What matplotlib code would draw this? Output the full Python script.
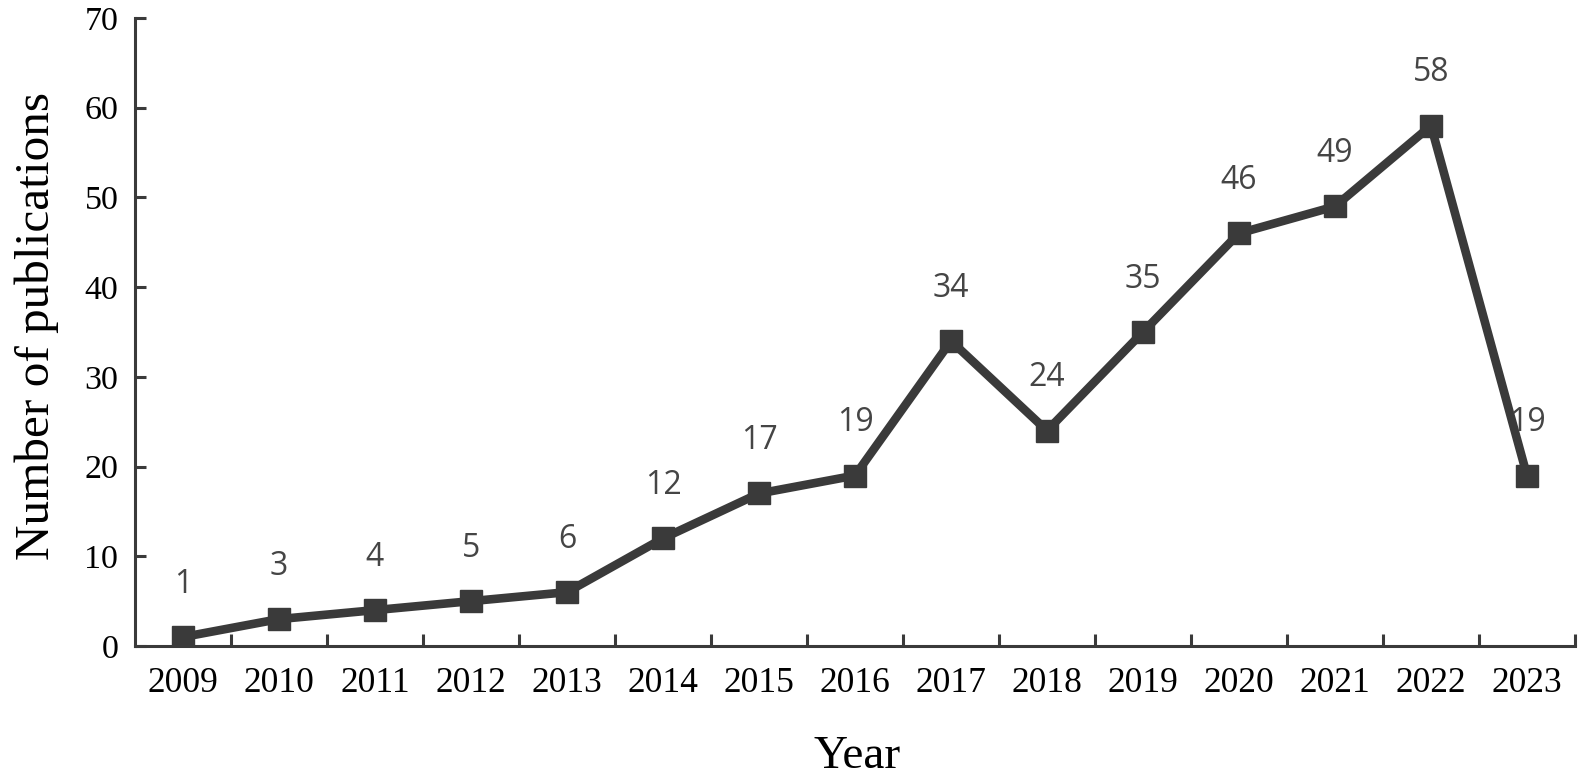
import matplotlib
matplotlib.use("Agg")
import matplotlib.pyplot as plt
import numpy as np

years = ["2009", "2010", "2011", "2012", "2013", "2014", "2015", "2016",
         "2017", "2018", "2019", "2020", "2021", "2022", "2023"]
publications = [1, 3, 4, 5, 6, 12, 17, 19, 34, 24, 35, 46, 49, 58, 19]
yticks = [0, 10, 20, 30, 40, 50, 60, 70]

dark = "#3a3a3a"
fig = plt.figure(figsize=(15.83, 7.80), dpi=100)
ax = fig.add_axes([135/1583, 1-646/780, (1575-135)/1583, (646-18)/780])

x = np.arange(len(years))
ax.plot(x, publications, color=dark, lw=6.2, marker="s", markersize=16,
        markerfacecolor=dark, markeredgecolor=dark, solid_joinstyle="miter", zorder=3)
for xi, v in zip(x, publications):
    ax.annotate(str(v), (xi, v), xytext=(0, 38), textcoords="offset points",
                ha="center", va="center", fontsize=23, color="#454545",
                family="Open Sans", zorder=4)

ax.set_xlim(-0.5, len(years) - 0.5)
ax.set_ylim(0, 70)
ax.set_yticks(yticks)
ax.set_yticklabels([str(t) for t in yticks])
ax.set_xticks(x)
ax.set_xticklabels(years)
ax.set_xticks(np.arange(len(years)) + 0.5, minor=True)
ax.tick_params(axis="x", which="major", length=0, pad=15)
ax.tick_params(axis="x", which="minor", direction="in", length=9, width=2.2, color=dark)
ax.tick_params(axis="y", direction="in", length=8, width=2.2, color=dark, pad=12)
for lab in ax.get_xticklabels():
    lab.set_family("Liberation Serif")
    lab.set_fontsize(25.5)
for lab in ax.get_yticklabels():
    lab.set_family("Liberation Serif")
    lab.set_fontsize(24.5)

for s in ["top", "right"]:
    ax.spines[s].set_visible(False)
for s in ["left", "bottom"]:
    ax.spines[s].set_color(dark)
    ax.spines[s].set_linewidth(2.2)

fig.text(857/1583, 1-757/780, "Year", ha="center", va="center",
         family="Liberation Serif", fontsize=34)
fig.text(37/1583, 1-326/780, "Number of publications", ha="center", va="center",
         rotation=90, family="Liberation Serif", fontsize=35.5)

fig.savefig("out.png", dpi=100)
